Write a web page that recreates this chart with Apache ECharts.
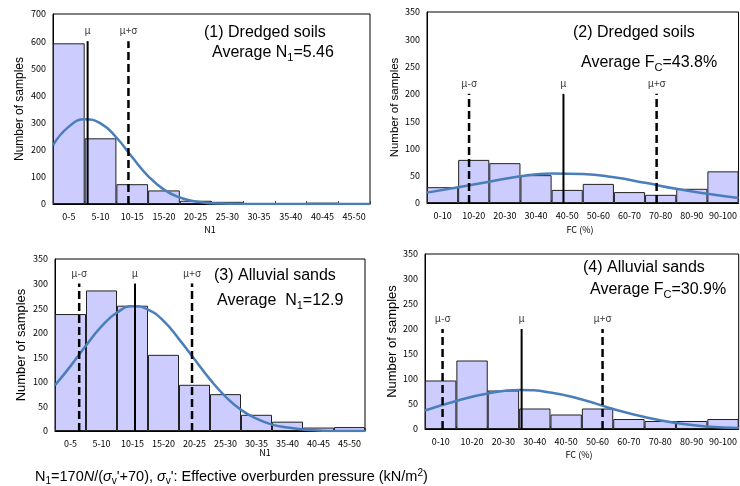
<!DOCTYPE html>
<html>
<head>
<meta charset="utf-8">
<script src="https://cdn.jsdelivr.net/npm/echarts@6/dist/echarts.min.js"></script>
<style>
  html, body { margin: 0; padding: 0; background: #fff; }
  #main { width: 740px; height: 486px; }
</style>
</head>
<body>
<div id="main"></div>
<script>
// bin labels
var n1Cats = ['0-5', '5-10', '10-15', '15-20', '20-25', '25-30', '30-35', '35-40', '40-45', '45-50'];
var fcCats = ['0-10', '10-20', '20-30', '30-40', '40-50', '50-60', '60-70', '70-80', '80-90', '90-100'];

// histogram counts
var dredgedN1 = [592, 242, 73, 50, 12, 8, 2, 2, 5, 1];
var dredgedFC = [29, 79, 73, 51, 24, 35, 20, 15, 26, 58];
var alluvialN1 = [238, 286, 255, 155, 94, 75, 33, 19, 7, 8];
var alluvialFC = [97, 137, 77, 41, 29, 41, 20, 16, 16, 20];

// fitted curves
var n1CurveX = [0, 2.5, 5, 7.5, 10, 12.5, 15, 17.5, 20, 22.5, 25, 27.5, 30, 32.5, 35, 37.5, 40, 42.5, 45, 47.5, 50];
var dredgedN1Curve = [217, 285, 312, 297, 245, 172, 103, 53, 24, 9, 3, 1, 0, 0, 0, 0, 0, 0, 0, 0, 0];
var alluvialN1Curve = [93, 132, 174, 213, 241, 254, 247, 224, 187, 146, 105, 70, 43, 25, 13, 7, 3, 1, 0, 0, 0];
var fcCurveX = [0, 10, 20, 30, 40, 50, 60, 70, 80, 90, 100];
var dredgedFCCurve = [19, 29, 39, 49, 54, 53, 47, 37, 26, 17, 9];
var alluvialFCCurve = [37, 56, 71, 78, 73, 59, 40, 24, 12, 5, 2];

// mean and mean +/- sigma markers
var dredgedN1Marks = [5.46, 11.9];
var dredgedN1MarkNames = ['μ', 'μ+σ'];
var dredgedFCMarks = [13.5, 43.8, 73.7];
var dredgedFCMarkNames = ['μ-σ', 'μ', 'μ+σ'];
var alluvialN1Marks = [3.9, 12.9, 22.1];
var alluvialN1MarkNames = ['μ-σ', 'μ', 'μ+σ'];
var alluvialFCMarks = [5.6, 30.8, 56.6];
var alluvialFCMarkNames = ['μ-σ', 'μ', 'μ+σ'];

var font = '"Liberation Sans", Arial, sans-serif';
var tickFont = '"Noto Sans CJK JP", "Liberation Sans", sans-serif';

var panels = [
  { cats: n1Cats, counts: dredgedN1, cx: n1CurveX, cy: dredgedN1Curve, marks: dredgedN1Marks, names: dredgedN1MarkNames, markTop: 600,
    ymax: 700, xmax: 50, grid: { left: 53, top: 14, width: 317, height: 190 }, nameGap: 27, nameSize: 12 },
  { cats: fcCats, counts: dredgedFC, cx: fcCurveX, cy: dredgedFCCurve, marks: dredgedFCMarks, names: dredgedFCMarkNames, markTop: 200,
    ymax: 350, xmax: 100, grid: { left: 427, top: 12, width: 312, height: 191 }, nameGap: 24, nameSize: 11.5 },
  { cats: n1Cats, counts: alluvialN1, cx: n1CurveX, cy: alluvialN1Curve, marks: alluvialN1Marks, names: alluvialN1MarkNames, markTop: 300,
    ymax: 350, xmax: 50, grid: { left: 55, top: 259, width: 310, height: 172 }, nameGap: 27, nameSize: 13 },
  { cats: fcCats, counts: alluvialFC, cx: fcCurveX, cy: alluvialFCCurve, marks: alluvialFCMarks, names: alluvialFCMarkNames, markTop: 200,
    ymax: 350, xmax: 100, grid: { left: 425, top: 254, width: 315, height: 175 }, nameGap: 25, nameSize: 13 }
];

var grid = [], xAxis = [], yAxis = [], series = [];

panels.forEach(function (p, i) {
  grid.push(Object.assign({ show: true, borderColor: '#000', borderWidth: 1 }, p.grid));
  xAxis.push({
    type: 'category', gridIndex: i, data: p.cats,
    axisLine: { lineStyle: { color: '#000', width: 1 } },
    axisTick: { show: true, inside: true, length: 3, lineStyle: { color: '#444' } },
    axisLabel: { fontSize: 9, color: '#000', margin: 8, interval: 0, fontFamily: tickFont }
  });
  xAxis.push({ type: 'value', gridIndex: i, min: 0, max: p.xmax, show: false });
  yAxis.push({
    type: 'value', gridIndex: i, min: 0, max: p.ymax, interval: p.ymax / 7,
    splitLine: { show: false },
    axisLine: { show: true, lineStyle: { color: '#000' } },
    axisTick: { show: false },
    axisLabel: { fontSize: 9, color: '#000', margin: 7, fontFamily: tickFont },
    name: 'Number of samples', nameLocation: 'middle', nameGap: p.nameGap,
    nameTextStyle: { fontSize: p.nameSize, color: '#000', fontFamily: font }
  });

  series.push({
    type: 'bar', xAxisIndex: 2 * i, yAxisIndex: i, data: p.counts,
    barCategoryGap: 0,
    itemStyle: { color: '#ccccff', borderColor: '#222', borderWidth: 1 }
  });

  series.push({
    type: 'line', xAxisIndex: 2 * i + 1, yAxisIndex: i, smooth: true, showSymbol: false,
    lineStyle: { color: '#4a7ebb', width: 2.5 },
    data: p.cx.map(function (x, k) { return [x, p.cy[k]]; }),
    z: 4
  });

  p.marks.forEach(function (m, k) {
    var isMean = p.names[k] === 'μ';
    series.push({
      type: 'line', xAxisIndex: 2 * i + 1, yAxisIndex: i, symbol: 'none',
      lineStyle: { color: '#000', width: isMean ? 2 : 2.5, type: isMean ? 'solid' : [8, 4] },
      data: [[m, 0], [m, p.markTop]],
      z: 5
    });
  });

  series.push({
    type: 'scatter', xAxisIndex: 2 * i + 1, yAxisIndex: i, symbolSize: 1,
    itemStyle: { color: 'rgba(0,0,0,0)' },
    data: p.marks.map(function (m, k) { return [m, p.markTop, p.names[k]]; }),
    label: {
      show: true, position: 'top', distance: 5, fontSize: 10, color: '#000', fontFamily: tickFont,
      formatter: function (d) { return d.data[2]; }
    },
    z: 6
  });
});

var rich = {
  s: { fontSize: 11, fontFamily: font, padding: [9, 0, 0, 0], color: '#000' }
};

function txt(x, y, text, size) {
  return {
    type: 'text', x: x, y: y, z: 10,
    style: {
      text: text, fontSize: size || 16, fontFamily: font, fill: '#000',
      verticalAlign: 'middle', rich: rich
    }
  };
}

function axisName(x, y, text) {
  return {
    type: 'text', x: x, y: y,
    style: { text: text, fontSize: 9, fontFamily: tickFont, fill: '#000', align: 'center', verticalAlign: 'middle' }
  };
}

var graphic = [
  txt(204, 33, '(1) Dredged soils'),
  txt(212, 53, 'Average N{s|1}=5.46'),
  txt(573, 33, '(2) Dredged soils'),
  txt(581, 63, 'Average F{s|C}=43.8%'),
  txt(214, 276, '(3) Alluvial sands'),
  txt(217, 301, 'Average  N{s|1}=12.9'),
  txt(583, 268, '(4) Alluvial sands'),
  txt(590, 290, 'Average F{s|C}=30.9%'),
  axisName(210, 230, 'N1'),
  axisName(580, 230, 'FC (%)'),
  axisName(265, 453, 'N1'),
  axisName(579, 455, 'FC (%)'),
  {
    type: 'text', x: 35, y: 477, z: 10,
    style: {
      text: 'N{fs|1}=170{fi|N}/({fi|σ}{fs|v}\'+70), {fi|σ}{fs|v}\': Effective overburden pressure (kN/m{fp|2})',
      fontSize: 14.5, fontFamily: font, fill: '#000', verticalAlign: 'middle',
      rich: {
        fs: { fontSize: 10, fontFamily: font, padding: [8, 0, 0, 0] },
        fi: { fontSize: 14.5, fontFamily: font, fontStyle: 'italic' },
        fp: { fontSize: 10, fontFamily: font, padding: [0, 0, 8, 0] }
      }
    }
  }
];

var chart = echarts.init(document.getElementById('main'));
chart.setOption({
  animation: false,
  backgroundColor: '#fff',
  grid: grid,
  xAxis: xAxis,
  yAxis: yAxis,
  series: series,
  graphic: graphic
});
</script>
</body>
</html>
